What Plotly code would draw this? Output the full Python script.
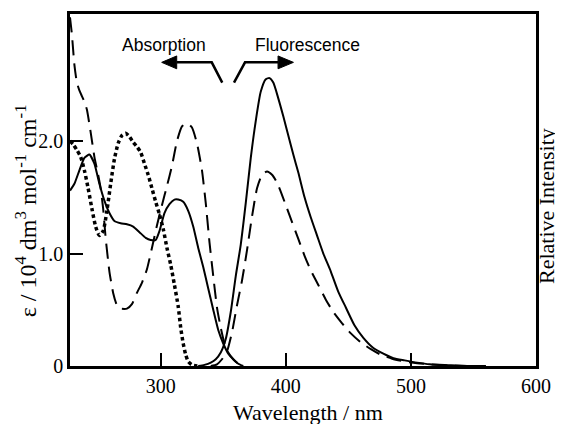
import plotly.graph_objects as go

# ---------------- data ----------------
# Absorption spectra (epsilon / 10^4 dm^3 mol^-1 cm^-1)
abs_solid_x = [227.5, 231, 235, 239, 243, 247, 251, 255, 259, 263, 268, 273, 278, 283, 288, 292,
               296, 299, 303, 307, 311, 314, 318, 322, 326, 330, 334, 338, 342, 346, 350, 354,
               358, 362, 366]
abs_solid_y = [1.56, 1.62, 1.74, 1.85, 1.88, 1.80, 1.62, 1.47, 1.36, 1.29, 1.27, 1.26, 1.24, 1.19,
               1.14, 1.12, 1.12, 1.20, 1.36, 1.44, 1.48, 1.48, 1.46, 1.38, 1.24, 1.05, 0.88, 0.69,
               0.50, 0.32, 0.20, 0.11, 0.06, 0.02, 0.0]

abs_dash_x = [227.5, 229, 231, 233, 235, 237, 239, 241, 244, 247, 250, 252, 254, 256, 259, 262,
              265, 268, 273, 277, 281, 285, 289, 293, 297, 301, 305, 309, 313, 317, 321, 325,
              329, 333, 336, 339, 342, 345, 348, 351, 354, 358, 362, 366]
abs_dash_y = [3.10, 2.95, 2.68, 2.52, 2.45, 2.40, 2.35, 2.28, 2.08, 1.86, 1.70, 1.58, 1.40, 1.14,
              0.84, 0.65, 0.54, 0.51, 0.51, 0.55, 0.65, 0.74, 0.86, 1.05, 1.25, 1.43, 1.60, 1.78,
              2.00, 2.13, 2.16, 2.12, 1.98, 1.74, 1.45, 1.10, 0.80, 0.52, 0.34, 0.20, 0.12, 0.06,
              0.02, 0.0]

abs_dot_x = [227.5, 230, 233, 236, 239, 242, 245, 248, 251, 254, 257, 260, 263, 266, 269, 272,
             275, 278, 281, 284, 287, 290, 293, 296, 299, 302, 305, 308, 311, 314, 316, 318,
             320, 322, 325, 330]
abs_dot_y = [2.00, 1.97, 1.92, 1.86, 1.74, 1.58, 1.40, 1.24, 1.16, 1.20, 1.38, 1.62, 1.84, 1.98,
             2.05, 2.07, 2.04, 1.99, 1.95, 1.90, 1.80, 1.70, 1.58, 1.46, 1.35, 1.22, 1.05, 0.90,
             0.72, 0.53, 0.34, 0.20, 0.10, 0.04, 0.01, 0.0]

# Fluorescence spectra (relative intensity, drawn on the same scale)
fl_solid_x = [330, 335, 340, 344, 348, 352, 356, 360, 364, 368, 372, 376, 380, 384, 387, 390,
              394, 398, 402, 406, 410, 415, 420, 425, 430, 436, 442, 448, 455, 462, 470, 478,
              486, 495, 505, 515, 530, 545, 560]
fl_solid_y = [0.0, 0.01, 0.03, 0.06, 0.12, 0.24, 0.48, 0.80, 1.08, 1.45, 1.85, 2.18, 2.44, 2.55,
              2.56, 2.52, 2.38, 2.22, 2.05, 1.88, 1.72, 1.50, 1.32, 1.16, 1.00, 0.84, 0.66, 0.52,
              0.36, 0.25, 0.16, 0.11, 0.07, 0.05, 0.03, 0.015, 0.007, 0.0, 0.0]

fl_dash_x = [340, 345, 349, 353, 357, 361, 365, 369, 373, 377, 381, 385, 389, 393, 397, 401,
             405, 410, 415, 420, 426, 432, 438, 445, 452, 460, 468, 476, 485, 495, 505, 515,
             530, 545]
fl_dash_y = [0.0, 0.015, 0.06, 0.13, 0.30, 0.54, 0.76, 1.03, 1.33, 1.58, 1.70, 1.73, 1.70, 1.63,
             1.52, 1.40, 1.28, 1.13, 0.98, 0.85, 0.72, 0.59, 0.48, 0.38, 0.29, 0.21, 0.15, 0.10,
             0.065, 0.04, 0.025, 0.015, 0.005, 0.0]

x_tickvals = [300, 400, 500, 600]
x_ticktext = ["300", "400", "500", "600"]
y_tickvals = [0, 1, 2]
y_ticktext = ["0", "1.0", "2.0"]

x_range = [227.5, 600]
y_range = [0, 3.13]

# ---------------- figure ----------------
SERIF = "Liberation Serif, Times New Roman, serif"
SANS = "Liberation Sans, Arial, sans-serif"

fig = go.Figure()

solid = dict(color="black", width=2)
dashed = dict(color="black", width=2, dash="15px,8px")
dotted = dict(color="black", width=3.5, dash="3.5px,3px")

fig.add_trace(go.Scatter(x=abs_dot_x, y=abs_dot_y, mode="lines",
                         line=dict(**dotted, shape="spline", smoothing=0.6)))
fig.add_trace(go.Scatter(x=abs_solid_x, y=abs_solid_y, mode="lines",
                         line=dict(**solid, shape="spline", smoothing=0.5)))
fig.add_trace(go.Scatter(x=abs_dash_x, y=abs_dash_y, mode="lines",
                         line=dict(**dashed, shape="spline", smoothing=0.5)))
fig.add_trace(go.Scatter(x=fl_solid_x, y=fl_solid_y, mode="lines",
                         line=dict(**solid, shape="spline", smoothing=0.6)))
fig.add_trace(go.Scatter(x=fl_dash_x, y=fl_dash_y, mode="lines",
                         line=dict(**dashed, shape="spline", smoothing=0.6)))

axis_common = dict(showgrid=False, zeroline=False, showline=True, linecolor="black",
                   linewidth=2.5, mirror=True, ticks="inside", ticklen=13, tickwidth=2,
                   tickcolor="black", tickfont=dict(family=SERIF, size=20, color="black"))

fig.update_xaxes(range=x_range, tickvals=x_tickvals, ticktext=x_ticktext, **axis_common)
fig.update_yaxes(range=y_range, tickvals=y_tickvals, ticktext=y_ticktext, **axis_common)

# arrows (decoration)
arrow_y = 2.70
arrow_low = 2.52
head_h = 0.057
fig.add_shape(type="path", xref="x", yref="y",
              path=f"M 312.8,{arrow_y} L 340.8,{arrow_y} L 349.2,{arrow_low}",
              line=dict(color="black", width=2.5))
fig.add_shape(type="path", xref="x", yref="y",
              path=f"M 300.8,{arrow_y} L 312.8,{arrow_y + head_h} L 312.8,{arrow_y - head_h} Z",
              fillcolor="black", line=dict(color="black", width=1))
fig.add_shape(type="path", xref="x", yref="y",
              path=f"M 358.6,{arrow_low} L 367.4,{arrow_y} L 393.8,{arrow_y}",
              line=dict(color="black", width=2.5))
fig.add_shape(type="path", xref="x", yref="y",
              path=f"M 406.1,{arrow_y} L 393.8,{arrow_y + head_h} L 393.8,{arrow_y - head_h} Z",
              fillcolor="black", line=dict(color="black", width=1))

fig.add_annotation(x=302.6, y=2.85, xref="x", yref="y", text="Absorption", showarrow=False,
                   font=dict(family=SANS, size=17.5, color="black"))
fig.add_annotation(x=417, y=2.85, xref="x", yref="y", text="Fluorescence", showarrow=False,
                   font=dict(family=SANS, size=17.5, color="black"))

# axis titles
fig.add_annotation(x=0.511, y=-0.132, xref="paper", yref="paper", text="Wavelength / nm",
                   showarrow=False, xanchor="center", yanchor="middle",
                   font=dict(family=SERIF, size=22, color="black"))
fig.add_annotation(x=-0.094, y=0.44, xref="paper", yref="paper",
                   text="ε / 10<sup>4</sup> dm<sup>3</sup> mol<sup>-1</sup> cm<sup>-1</sup>",
                   showarrow=False, textangle=-90, xanchor="center", yanchor="middle",
                   font=dict(family=SERIF, size=24, color="black"))
fig.add_annotation(x=1.024, y=0.455, xref="paper", yref="paper", text="Relative Intensity",
                   showarrow=False, textangle=-90, xanchor="center", yanchor="middle",
                   font=dict(family=SERIF, size=22, color="black"))

# the page adds an 8 px body margin, so the figure is sized to fit the 563x424 window
fig.update_layout(width=555, height=416, margin=dict(l=62, r=27, t=3, b=58),
                  paper_bgcolor="white", plot_bgcolor="white", showlegend=False)

fig.write_html("out.html")
